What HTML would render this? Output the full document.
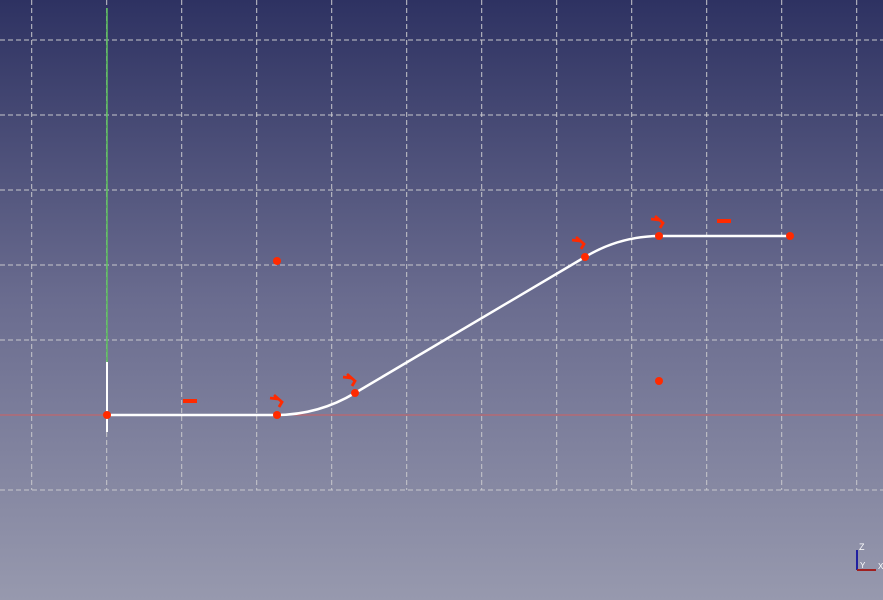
<!DOCTYPE html>
<html><head><meta charset="utf-8"><style>
html,body{margin:0;padding:0;width:883px;height:600px;overflow:hidden}
#bg{position:absolute;left:0;top:0;width:883px;height:600px;background:linear-gradient(#2e3262,#6a6c8f 50%,#9799ae)}
svg{position:absolute;left:0;top:0}
</style></head><body>
<div id="bg"></div>
<svg id="s" width="883" height="600"></svg>
<script>
const gridX=[31.7,106.7,181.7,256.7,331.7,406.7,481.7,556.7,631.7,706.7,781.7,856.7];
const gridY=[40,115,190,265,340,490];
const lines=[[107,415,277,415],[355,393,585,257],[659,236,790,236]];
const arcs=[[277,415,355,393,154],[585,257,659,236,145]];
const arcSweep=[0,1];
const points=[[107,415],[277,415],[355,393],[585,257],[659,236],[790,236],[277,261],[659,381]];
const horizMarks=[[190,401],[724,221]];
const tangentMarks=[[277,404],[350,383],[579,246],[658,225]];
const NS='http://www.w3.org/2000/svg';
const s=document.getElementById('s');
function mk(t,a,n){const e=document.createElementNS(NS,t);for(const k in a)e.setAttribute(k,a[k]);


s.appendChild(e);return e;}
gridX.forEach(x=>mk('line',{x1:x,y1:0,x2:x,y2:490,stroke:'#c8c8cc','stroke-width':1,'stroke-dasharray':'5,3'},'grid-line-vertical'));
gridY.forEach(y=>mk('line',{x1:0,y1:y,x2:883,y2:y,stroke:'#c8c8cc','stroke-width':1,'stroke-dasharray':'5,3'},'grid-line-horizontal'));
mk('line',{x1:0,y1:415,x2:883,y2:415,stroke:'#d06060','stroke-width':1},'x-axis');
mk('line',{x1:107,y1:8,x2:107,y2:362,stroke:'#5cc05c','stroke-width':1.5},'y-axis');
mk('line',{x1:107,y1:362,x2:107,y2:432,stroke:'#fff','stroke-width':2},'vertical-line-segment');
lines.forEach(l=>mk('line',{x1:l[0],y1:l[1],x2:l[2],y2:l[3],stroke:'#fff','stroke-width':2.5},'sketch-line'));
arcs.forEach((a,i)=>mk('path',{d:`M${a[0]},${a[1]} A${a[4]},${a[4]} 0 0 ${arcSweep[i]} ${a[2]},${a[3]}`,fill:'none',stroke:'#fff','stroke-width':2.5},'sketch-arc'));
points.forEach(p=>mk('circle',{cx:p[0],cy:p[1],r:4,fill:'#ff2a00'},'sketch-point'));
horizMarks.forEach(h=>mk('rect',{x:h[0]-7,y:h[1]-2,width:14,height:4,fill:'#ff2a00'},'horizontal-constraint'));
tangentMarks.forEach(t=>mk('path',{d:`M${t[0]-7},${t[1]-6} L${t[0]+1},${t[1]-5} M${t[0]-3},${t[1]-9} L${t[0]+5},${t[1]-2} L${t[0]+2},${t[1]+3}`,fill:'none',stroke:'#ff2a00','stroke-width':2.8},'tangent-constraint'));
mk('line',{x1:857,y1:570,x2:857,y2:550,stroke:'#2020a0','stroke-width':2},'triad-z');
mk('line',{x1:857,y1:570,x2:876,y2:570,stroke:'#a02020','stroke-width':2},'triad-x');
const tz=mk('text',{x:859,y:550,'font-size':9,fill:'#fff','font-family':'Liberation Sans, sans-serif'},'triad-z-label');tz.textContent='Z';
const ty=mk('text',{x:860,y:568,'font-size':8,fill:'#fff','font-family':'Liberation Sans, sans-serif'},'triad-y-label');ty.textContent='Y';
const tx=mk('text',{x:878,y:569,'font-size':8,fill:'#fff','font-family':'Liberation Sans, sans-serif'},'triad-x-label');tx.textContent='X';
</script>
</body></html>
